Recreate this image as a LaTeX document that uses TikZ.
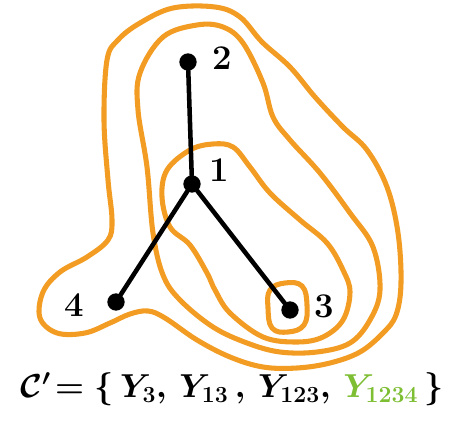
\documentclass[tikz,border=0pt]{standalone}
\usetikzlibrary{positioning}
\definecolor{loopor}{RGB}{243,156,35}
\definecolor{ygreen}{RGB}{125,190,50}

\begin{document}
\begin{tikzpicture}[
    x=0.75pt, y=-0.75pt,
    vertex/.style={circle, fill=black, inner sep=0pt, minimum size=13pt},
    edge/.style={line width=3.4pt, line cap=round},
    blob/.style={draw=loopor, line width=3.8pt, line join=round},
    lbl/.style={font=\fontsize{26}{30}\selectfont\bfseries}
]
\useasboundingbox (0,0) rectangle (460,423);

% Loops
\draw[blob] plot[smooth cycle, tension=0.6] coordinates {
  (107,60) (118,40) (140,23) (173,8) (215,7) (240,17) (262,42) (290,67)
  (315,97) (343,127) (367,150) (387,187) (398,233) (401,283) (396,315)
  (383,333) (360,352) (330,363) (297,368) (263,367) (230,357) (197,340)
  (165,318) (148,311) (130,314) (110,323) (85,333) (57,333) (40,318)
  (43,292) (60,272) (87,257) (108,240) (112,220) (108,180) (104,120)};
\draw[blob] plot[smooth cycle, tension=0.6] coordinates {
  (140,73) (163,37) (197,25) (223,27) (243,43) (263,83) (273,117) (290,140)
  (320,173) (350,213) (373,247) (380,290) (370,320) (350,343) (317,352)
  (280,352) (247,343) (213,327) (180,300) (163,275) (153,233) (147,167)
  (138,110)};
\draw[blob] plot[smooth cycle, tension=0.6] coordinates {
  (213,144) (233,147) (250,167) (270,193) (300,220) (327,243) (343,270)
  (350,292) (343,320) (323,337) (297,342) (263,337) (230,313) (215,290)
  (207,273) (190,245) (170,227) (162,197) (167,170) (190,150)};
\draw[blob] plot[smooth cycle, tension=0.7] coordinates {
  (270,290) (285,283) (302,286) (307,305) (304,325) (288,332) (272,328)
  (268,308)};

% Vertices
\node[vertex] (v2) at (188,62) {};
\node[vertex] (v1) at (192,184) {};
\node[vertex] (v4) at (116,302) {};
\node[vertex] (v3) at (290,310) {};

% Edges
\draw[edge] (v2) -- (v1);
\draw[edge] (v1) -- (v4);
\draw[edge] (v1) -- (v3);

% Labels
\node[lbl] (l2) at (222,58) {2};
\node[lbl] (l1) at (219,170) {1};
\node[lbl] (l4) at (74,305) {4};
\node[lbl] (l3) at (324,306) {3};

% Set
\node[font=\fontsize{27}{32}\selectfont\boldmath] (set) at (232,389)
  {$\mathcal{C}'\! = \{\, Y_3,\, Y_{13}\,,\, Y_{123},\, \textcolor{ygreen}{Y_{1234}}\,\}$};
\end{tikzpicture}
\end{document}
